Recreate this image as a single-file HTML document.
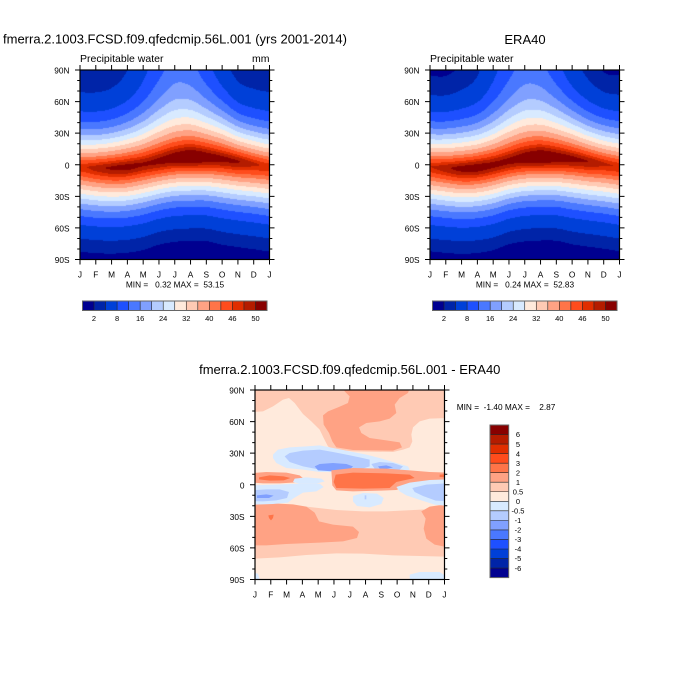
<!DOCTYPE html>
<html><head><meta charset="utf-8">
<style>
html,body{margin:0;padding:0;background:#fff;}
#w{position:relative;width:700px;height:700px;overflow:hidden;background:#fff;}
canvas{position:absolute;}
svg{position:absolute;left:0;top:0;}
text{font-family:"Liberation Sans",Arial,sans-serif;fill:#000;}
.t{font-size:13px;}
.s{font-size:10.5px;}
.k{font-size:8.3px;}
.c{font-size:7.5px;}
.pre{white-space:pre;}
</style></head><body><div id="w">
<canvas id="c1" width="190" height="190" style="left:80px;top:70px;width:189.5px;height:189.5px"></canvas>
<canvas id="c2" width="190" height="190" style="left:430px;top:70px;width:189.5px;height:189.5px"></canvas>
<svg width="700" height="700" viewBox="0 0 700 700">
<defs>
<clipPath id="cp"><rect x="255" y="390" width="189.5" height="189.5"/></clipPath>
<g id="cb">
<rect x="0" width="11.53" height="9.5" fill="#000090"/>
<rect x="11.53" width="11.53" height="9.5" fill="#0024a8"/>
<rect x="23.06" width="11.53" height="9.5" fill="#0040d8"/>
<rect x="34.59" width="11.53" height="9.5" fill="#1e50ff"/>
<rect x="46.12" width="11.53" height="9.5" fill="#4a78ff"/>
<rect x="57.65" width="11.53" height="9.5" fill="#80a0ff"/>
<rect x="69.18" width="11.53" height="9.5" fill="#b4ccff"/>
<rect x="80.71" width="11.53" height="9.5" fill="#d8eaff"/>
<rect x="92.24" width="11.53" height="9.5" fill="#ffeadc"/>
<rect x="103.77" width="11.53" height="9.5" fill="#ffcab4"/>
<rect x="115.3" width="11.53" height="9.5" fill="#ffa284"/>
<rect x="126.83" width="11.53" height="9.5" fill="#ff7448"/>
<rect x="138.36" width="11.53" height="9.5" fill="#ff4c1c"/>
<rect x="149.89" width="11.53" height="9.5" fill="#e02e00"/>
<rect x="161.42" width="11.53" height="9.5" fill="#b41c00"/>
<rect x="172.95" width="11.53" height="9.5" fill="#880000"/>
<path d="M11.53 0v9.5M23.06 0v9.5M34.59 0v9.5M46.12 0v9.5M57.65 0v9.5M69.18 0v9.5M80.71 0v9.5M92.24 0v9.5M103.77 0v9.5M115.3 0v9.5M126.83 0v9.5M138.36 0v9.5M149.89 0v9.5M161.42 0v9.5M172.95 0v9.5" stroke="#222" stroke-width="0.6"/>
<rect x="0" y="0" width="184.5" height="9.5" fill="none" stroke="#666" stroke-width="1"/>
</g>
</defs>

<!-- Titles -->
<text class="t" x="175" y="43.5" text-anchor="middle">fmerra.2.1003.FCSD.f09.qfedcmip.56L.001 (yrs 2001-2014)</text>
<text class="t" x="525" y="44" text-anchor="middle">ERA40</text>
<text class="s" x="80" y="62">Precipitable water</text>
<text class="s" x="269.5" y="62" text-anchor="end">mm</text>
<text class="s" x="430" y="62">Precipitable water</text>
<text class="t" x="349.75" y="374" text-anchor="middle">fmerra.2.1003.FCSD.f09.qfedcmip.56L.001 - ERA40</text>

<!-- Difference field -->
<g clip-path="url(#cp)">
<rect x="255" y="390" width="189.5" height="189.5" fill="#ffcab4"/>
<g transform="translate(253 388) scale(0.33333)">
<polygon fill="#ffeadc" points="0,72 30,70 60,55 90,35 108,30 125,45 150,78 175,100 200,125 212,150 225,175 238,183 300,190 420,192 450,185 470,178 478,160 475,140 480,118 500,100 530,92 585,90 585,265 0,265"/>
<polygon fill="#ffa284" points="270,0 470,0 465,15 440,30 425,50 430,75 410,92 380,100 340,105 318,118 325,135 350,150 400,157 440,163 447,178 420,188 300,186 250,178 238,160 228,135 212,110 210,82 225,70 255,58 285,45 290,25 275,10"/>
</g>
<g transform="translate(253 482) scale(0.33333)">
<polygon fill="#ffeadc" points="0,-25 585,-25 585,85 520,82 400,88 330,88 250,84 160,74 60,70 0,72"/>
<polygon fill="#ffeadc" points="0,230 80,226 160,219 250,214 330,215 420,220 500,222 585,224 585,300 0,300"/>
<polygon fill="#ffa284" points="0,66 60,64 120,67 160,74 185,92 198,118 240,128 300,134 318,150 312,168 270,178 200,182 100,186 40,190 0,190"/>
<polygon fill="#ffa284" points="530,74 585,66 585,196 545,188 520,170 512,140 518,110 505,88"/>
<polygon fill="#ff7448" points="46,100 62,98 60,108 54,115 48,108"/>
</g>
<g transform="translate(253 388) scale(0.33333)">
<polygon fill="#d8eaff" points="60,200 75,185 110,178 160,175 200,172 240,180 290,190 340,200 380,210 430,225 465,235 470,245 440,252 380,250 320,250 250,252 200,252 150,245 100,240 70,225 60,210"/>
<polygon fill="#b4ccff" points="95,205 110,195 150,188 200,185 240,192 280,200 320,208 350,215 350,235 320,245 260,248 200,245 150,235 110,222"/>
<polygon fill="#80a0ff" points="185,235 200,228 240,225 280,228 300,235 290,245 240,250 195,247"/>
<polygon fill="#b4ccff" points="355,228 380,222 420,225 450,235 440,245 400,247 365,242"/>
<polygon fill="#80a0ff" points="375,235 400,232 420,238 400,243 380,242"/>
<polygon fill="#ffa284" points="0,255 40,252 100,254 140,262 152,272 130,283 80,286 30,286 0,284"/>
<polygon fill="#ff7448" points="18,268 50,262 92,265 112,270 92,277 50,278 18,274"/>
</g>
<g transform="translate(253 482) scale(0.33333)">
<polygon fill="#ffa284" points="235,-35 300,-42 400,-40 480,-34 530,-30 585,-28 585,-8 520,-3 470,8 430,24 380,26 300,28 250,25 238,10"/>
<polygon fill="#ff7448" points="248,-22 300,-28 400,-26 470,-22 485,-12 430,0 410,18 330,20 250,18 242,0"/>
<polygon fill="#ff7448" points="560,-22 585,-24 585,-14 560,-15"/>
<polygon fill="#d8eaff" points="125,-10 160,-14 205,-10 215,-2 190,5 140,5 120,0"/>
<polygon fill="#d8eaff" points="0,10 70,8 140,5 200,5 212,15 190,28 150,32 120,50 105,62 60,66 0,68"/>
<polygon fill="#b4ccff" points="0,25 40,22 80,22 108,30 102,48 70,55 30,58 0,57"/>
<polygon fill="#80a0ff" points="12,40 40,37 62,41 48,48 12,48"/>
<polygon fill="#d8eaff" points="300,42 330,33 372,35 392,48 385,66 350,76 312,72 300,58"/>
<rect x="335" y="40" width="5" height="12" fill="#b4ccff"/>
<polygon fill="#d8eaff" points="430,15 470,2 530,-6 585,-8 585,72 545,68 505,55 460,40 440,28"/>
<polygon fill="#b4ccff" points="478,18 520,8 585,4 585,58 548,56 510,42 485,30"/>
<polygon fill="#d8eaff" points="0,272 15,275 20,292 0,292"/>
<polygon fill="#d8eaff" points="470,278 500,270 560,270 575,280 575,295 470,295"/>
</g>
</g>

<!-- Axes boxes -->
<rect x="80" y="70" width="189.5" height="189.5" fill="none" stroke="#000" stroke-width="1.2"/>
<rect x="430" y="70" width="189.5" height="189.5" fill="none" stroke="#000" stroke-width="1.2"/>
<rect x="255" y="390" width="189.5" height="189.5" fill="none" stroke="#000" stroke-width="1.2"/>
<path id="tk" d="" stroke="#000" stroke-width="1" fill="none"/>

<g class="k">
<text class="k" x="69.5" y="73.5" text-anchor="end">90N</text>
<text class="k" x="69.5" y="105.1" text-anchor="end">60N</text>
<text class="k" x="69.5" y="136.7" text-anchor="end">30N</text>
<text class="k" x="69.5" y="168.3" text-anchor="end">0</text>
<text class="k" x="69.5" y="199.8" text-anchor="end">30S</text>
<text class="k" x="69.5" y="231.4" text-anchor="end">60S</text>
<text class="k" x="69.5" y="263" text-anchor="end">90S</text>

<text class="k" x="419.5" y="73.5" text-anchor="end">90N</text>
<text class="k" x="419.5" y="105.1" text-anchor="end">60N</text>
<text class="k" x="419.5" y="136.7" text-anchor="end">30N</text>
<text class="k" x="419.5" y="168.3" text-anchor="end">0</text>
<text class="k" x="419.5" y="199.8" text-anchor="end">30S</text>
<text class="k" x="419.5" y="231.4" text-anchor="end">60S</text>
<text class="k" x="419.5" y="263" text-anchor="end">90S</text>

<text class="k" x="244.5" y="393.5" text-anchor="end">90N</text>
<text class="k" x="244.5" y="425.1" text-anchor="end">60N</text>
<text class="k" x="244.5" y="456.7" text-anchor="end">30N</text>
<text class="k" x="244.5" y="488.3" text-anchor="end">0</text>
<text class="k" x="244.5" y="519.8" text-anchor="end">30S</text>
<text class="k" x="244.5" y="551.4" text-anchor="end">60S</text>
<text class="k" x="244.5" y="583" text-anchor="end">90S</text>
</g>

<g text-anchor="middle">
<text class="k" x="80" y="277.3">J</text>
<text class="k" x="95.8" y="277.3">F</text>
<text class="k" x="111.6" y="277.3">M</text>
<text class="k" x="127.4" y="277.3">A</text>
<text class="k" x="143.2" y="277.3">M</text>
<text class="k" x="159" y="277.3">J</text>
<text class="k" x="174.8" y="277.3">J</text>
<text class="k" x="190.5" y="277.3">A</text>
<text class="k" x="206.3" y="277.3">S</text>
<text class="k" x="222.1" y="277.3">O</text>
<text class="k" x="237.9" y="277.3">N</text>
<text class="k" x="253.7" y="277.3">D</text>
<text class="k" x="269.5" y="277.3">J</text>

<text class="k" x="430" y="277.3">J</text>
<text class="k" x="445.8" y="277.3">F</text>
<text class="k" x="461.6" y="277.3">M</text>
<text class="k" x="477.4" y="277.3">A</text>
<text class="k" x="493.2" y="277.3">M</text>
<text class="k" x="509" y="277.3">J</text>
<text class="k" x="524.8" y="277.3">J</text>
<text class="k" x="540.5" y="277.3">A</text>
<text class="k" x="556.3" y="277.3">S</text>
<text class="k" x="572.1" y="277.3">O</text>
<text class="k" x="587.9" y="277.3">N</text>
<text class="k" x="603.7" y="277.3">D</text>
<text class="k" x="619.5" y="277.3">J</text>

<text class="k" x="255" y="597.3">J</text>
<text class="k" x="270.8" y="597.3">F</text>
<text class="k" x="286.6" y="597.3">M</text>
<text class="k" x="302.4" y="597.3">A</text>
<text class="k" x="318.2" y="597.3">M</text>
<text class="k" x="334" y="597.3">J</text>
<text class="k" x="349.8" y="597.3">J</text>
<text class="k" x="365.5" y="597.3">A</text>
<text class="k" x="381.3" y="597.3">S</text>
<text class="k" x="397.1" y="597.3">O</text>
<text class="k" x="412.9" y="597.3">N</text>
<text class="k" x="428.7" y="597.3">D</text>
<text class="k" x="444.5" y="597.3">J</text>

<text class="k pre" x="175" y="287.3" xml:space="preserve">MIN =   0.32 MAX =  53.15</text>
<text class="k pre" x="525" y="287.3" xml:space="preserve">MIN =   0.24 MAX =  52.83</text>
</g>
<text class="k pre" x="456.7" y="410" xml:space="preserve">MIN =  -1.40 MAX =    2.87</text>

<use href="#cb" x="82.5" y="301"/>
<use href="#cb" x="432.5" y="301"/>
<g text-anchor="middle">
<text class="c" x="94" y="321">2</text>
<text class="c" x="117.1" y="321">8</text>
<text class="c" x="140.2" y="321">16</text>
<text class="c" x="163.2" y="321">24</text>
<text class="c" x="186.3" y="321">32</text>
<text class="c" x="209.3" y="321">40</text>
<text class="c" x="232.4" y="321">46</text>
<text class="c" x="255.5" y="321">50</text>
<text class="c" x="444" y="321">2</text>
<text class="c" x="467.1" y="321">8</text>
<text class="c" x="490.2" y="321">16</text>
<text class="c" x="513.2" y="321">24</text>
<text class="c" x="536.3" y="321">32</text>
<text class="c" x="559.3" y="321">40</text>
<text class="c" x="582.4" y="321">46</text>
<text class="c" x="605.5" y="321">50</text>
</g>

<g transform="translate(490 425)">
<rect y="0" width="18.7" height="9.54" fill="#880000"/>
<rect y="9.54" width="18.7" height="9.54" fill="#b41c00"/>
<rect y="19.08" width="18.7" height="9.54" fill="#e02e00"/>
<rect y="28.61" width="18.7" height="9.54" fill="#ff4c1c"/>
<rect y="38.15" width="18.7" height="9.54" fill="#ff7448"/>
<rect y="47.69" width="18.7" height="9.54" fill="#ffa284"/>
<rect y="57.23" width="18.7" height="9.54" fill="#ffcab4"/>
<rect y="66.76" width="18.7" height="9.54" fill="#ffeadc"/>
<rect y="76.3" width="18.7" height="9.54" fill="#d8eaff"/>
<rect y="85.84" width="18.7" height="9.54" fill="#b4ccff"/>
<rect y="95.38" width="18.7" height="9.54" fill="#80a0ff"/>
<rect y="104.91" width="18.7" height="9.54" fill="#4a78ff"/>
<rect y="114.45" width="18.7" height="9.54" fill="#1e50ff"/>
<rect y="123.99" width="18.7" height="9.54" fill="#0040d8"/>
<rect y="133.53" width="18.7" height="9.54" fill="#0024a8"/>
<rect y="143.06" width="18.7" height="9.54" fill="#000090"/>
<path d="M0 9.54h18.7M0 19.08h18.7M0 28.61h18.7M0 38.15h18.7M0 47.69h18.7M0 57.23h18.7M0 66.76h18.7M0 76.3h18.7M0 85.84h18.7M0 95.38h18.7M0 104.91h18.7M0 114.45h18.7M0 123.99h18.7M0 133.53h18.7M0 143.06h18.7" stroke="#222" stroke-width="0.6"/>
<rect x="0" y="0" width="18.7" height="152.6" fill="none" stroke="#666" stroke-width="1"/>
</g>
<g text-anchor="middle">
<text class="c" x="518" y="437.2">6</text>
<text class="c" x="518" y="446.8">5</text>
<text class="c" x="518" y="456.3">4</text>
<text class="c" x="518" y="465.9">3</text>
<text class="c" x="518" y="475.4">2</text>
<text class="c" x="518" y="484.9">1</text>
<text class="c" x="518" y="494.5">0.5</text>
<text class="c" x="518" y="504">0</text>
<text class="c" x="518" y="513.5">-0.5</text>
<text class="c" x="518" y="523.1">-1</text>
<text class="c" x="518" y="532.6">-2</text>
<text class="c" x="518" y="542.2">-3</text>
<text class="c" x="518" y="551.7">-4</text>
<text class="c" x="518" y="561.2">-5</text>
<text class="c" x="518" y="570.8">-6</text>
</g>
</svg>
</div>
<script>
(function(){
const T=[2,4,8,12,16,20,24,28,32,36,40,43,46,48,50];
const HX=['000090','0024a8','0040d8','1e50ff','4a78ff','80a0ff','b4ccff','d8eaff','ffeadc','ffcab4','ffa284','ff7448','ff4c1c','e02e00','b41c00','880000'];
const RGB=HX.map(h=>[parseInt(h.slice(0,2),16),parseInt(h.slice(2,4),16),parseInt(h.slice(4,6),16)]);
function cr(a,t){const n=a.length;t=((t%n)+n)%n;const i=Math.floor(t)%n,f=t-Math.floor(t);
 const p0=a[(i-1+n)%n],p1=a[i],p2=a[(i+1)%n],p3=a[(i+2)%n];
 return 0.5*(2*p1+(-p0+p2)*f+(2*p0-5*p1+4*p2-p3)*f*f+(-p0+3*p1-3*p2+p3)*f*f*f);}
function val(lat,t,P){const c=cr(P.c,t),vp=cr(P.vp,t),d=lat-c;
 if(d>=0){const vb=cr(P.vbN,t),w=cr(P.wN,t);return vb+(vp-vb)*Math.exp(-Math.pow(d/w,P.pN));}
 const w=cr(P.wS,t);return P.vbS+(vp-P.vbS)*Math.exp(-Math.pow(-d/w,P.pS));}
function draw(id,P){const cv=document.getElementById(id);if(!cv||!cv.getContext)return;
 const ctx=cv.getContext('2d'),N=190,im=ctx.createImageData(N,N),D=im.data;
 for(let j=0;j<N;j++){const lat=90-(j+0.5)/N*180;
  for(let i=0;i<N;i++){const t=(i+0.5)/N*12;const v=val(lat,t,P);let k=0;while(k<15&&v>=T[k])k++;
   const c=RGB[k],o=(j*N+i)*4;D[o]=c[0];D[o+1]=c[1];D[o+2]=c[2];D[o+3]=255;}}
 ctx.putImageData(im,0,0);}
const PM={c:[-1.5,-2.5,-2.5,-1.5,1,4,7,8,7.5,6,3.5,1],
 vp:[47.5,49,50.5,51,50.5,51,52,53,52,51,50.2,48.5],
 vbN:[1.8,1.8,2,3,5.5,8.5,11.5,10.5,7,3.5,2,1.8],
 wN:[32,32,33,35,37,40,40,40,39,37,33,32],pN:1.4,
 vbS:0.3,wS:[38,38,38,38,38,37,37,37,37,38,38,38],pS:1.6};
const PE={c:[-1.5,-2.5,-3,-2,0.5,4,7,8,7.5,6,3.5,1],
 vp:[48,49.5,51,51.5,51,51,52,52.8,52,51,50,48.5],
 vbN:[1,1,1.5,2.6,5.5,8.5,11.3,10.3,7,3.5,2,1],
 wN:[33,33,34,35,37,40,40,40,39,37,34,33],pN:1.4,
 vbS:0.25,wS:[38,38,38,38,38,37,37,37,37,38,38,38],pS:1.6};
draw('c1',PM);draw('c2',PE);
function ticks(x0,y0){const s=189.5;let d='';
 for(let k=0;k<=12;k++){const x=(x0+k*s/12).toFixed(2);d+='M'+x+' '+(y0+s)+'v5M'+x+' '+y0+'v-5';}
 for(let lat=90;lat>=-90;lat-=10){const y=(y0+(90-lat)/180*s).toFixed(2);const L=(lat%30===0)?5:2.8;
  d+='M'+x0+' '+y+'h'+(-L)+'M'+(x0+s)+' '+y+'h'+L;}
 return d;}
document.getElementById('tk').setAttribute('d',ticks(80,70)+ticks(430,70)+ticks(255,390));
})();
</script>
</body></html>
